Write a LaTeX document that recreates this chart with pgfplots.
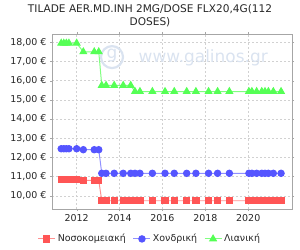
\documentclass[border=0pt]{standalone}
\usepackage{pgfplots}
\pgfplotsset{compat=1.18}
\usepackage{fontspec}
\setmainfont{DejaVu Sans}
\definecolor{cred}{RGB}{255,85,85}
\definecolor{cblue}{RGB}{85,85,255}
\definecolor{cgreen}{RGB}{85,255,85}
\definecolor{wm}{RGB}{218,227,240}
\pgfplotstableread{
x r b g
2011.28 10.86 12.45 17.95
2011.40 10.86 12.45 17.95
2011.52 10.86 12.45 17.95
2011.64 10.86 12.45 17.95
2012.00 10.85 12.45 17.95
2012.31 10.80 12.40 17.50
2012.82 10.80 12.40 17.50
2013.03 10.80 12.40 17.50
2013.17 9.74 11.17 15.75
2013.37 9.74 11.17 15.75
2013.75 9.74 11.17 15.75
2014.17 9.74 11.17 15.75
2014.52 9.74 11.17 15.75
2014.72 9.74 11.17 15.43
2014.95 9.74 11.17 15.43
2015.53 9.74 11.17 15.43
2016.12 9.74 11.17 15.43
2016.55 9.74 11.17 15.43
2017.13 9.74 11.17 15.43
2017.56 9.74 11.17 15.43
2018.15 9.74 11.17 15.43
2018.57 9.74 11.17 15.43
2019.12 9.74 11.17 15.43
2020.03 9.74 11.17 15.43
2020.17 9.74 11.17 15.43
2020.39 9.74 11.17 15.43
2020.63 9.74 11.17 15.43
2020.78 9.74 11.17 15.43
2020.94 9.74 11.17 15.43
2021.17 9.74 11.17 15.43
2021.53 9.74 11.17 15.43
}\datatable
\begin{document}
\begin{tikzpicture}
\useasboundingbox (0,0) rectangle (300bp,250bp);
\node[font=\fontsize{10.6}{13}\selectfont, text=black!85] at (150bp,240.5bp) {TILADE AER.MD.INH 2MG/DOSE FLX20,4G(112};
\node[font=\fontsize{10.6}{13}\selectfont, text=black!85] at (150bp,227.5bp) {DOSES)};
\begin{axis}[
  at={(52bp,41bp)}, anchor=south west,
  scale only axis, width=240bp, height=175bp,
  xmin=2010.85, xmax=2022.04, ymin=9.31, ymax=18.43,
  xtick={2012,2014,2016,2018,2020},
  xticklabels={2012,2014,2016,2018,2020},
  ytick={10,11,12,13,14,15,16,17,18},
  yticklabels={{10,00 €},{11,00 €},{12,00 €},{13,00 €},{14,00 €},{15,00 €},{16,00 €},{17,00 €},{18,00 €}},
  tick label style={font=\fontsize{9.5}{11}\selectfont, text=black!85},
  axis line style={draw=black!35},
  tick style={draw=black!35},
  tick align=outside, major tick length=2bp,
  grid=major,
  major grid style={draw=black!18, dash pattern=on 2bp off 2bp},
  legend style={at={(0.408,-0.171)}, anchor=center, draw=none, legend columns=3,
    font=\fontsize{9.5}{11}\selectfont, text=black!85,
    /tikz/every even column/.append style={column sep=5bp}},
  legend cell align=left,
]
\node[font=\fontsize{17}{19}\selectfont, text=wm, anchor=center] at (axis description cs:0.63,0.862) {www.galinos.gr};
\draw[wm, line width=2.2bp] (axis description cs:0.25,0.868) circle[radius=11bp];
\node[font=\fontsize{17}{19}\selectfont, text=wm] at (axis description cs:0.25,0.875) {g};
\addplot[color=cred!65, line width=1pt, mark=square*, mark size=3.2bp, mark options={fill=cred, draw=cred}] table[x=x,y=r] {\datatable};
\addlegendentry{Νοσοκομειακή}
\addplot[color=cblue!65, line width=1pt, mark=*, mark size=3.2bp, mark options={fill=cblue, draw=cblue}] table[x=x,y=b] {\datatable};
\addlegendentry{Χονδρική}
\addplot[color=cgreen!75, line width=1pt, mark=triangle*, mark size=3.8bp, mark options={fill=cgreen, draw=cgreen}] table[x=x,y=g] {\datatable};
\addlegendentry{Λιανική}
\end{axis}
\end{tikzpicture}
\end{document}
